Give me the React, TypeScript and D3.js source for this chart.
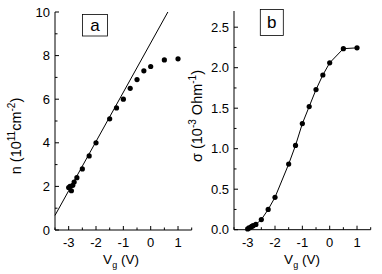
import React from "react";
import * as d3 from "d3";

// ---- data ----
const gateVoltageA = [-3.0, -2.95, -2.9, -2.85, -2.8, -2.7, -2.5, -2.25, -2.0, -1.5, -1.25, -1.0, -0.75, -0.5, -0.25, 0, 0.5, 1.0];
const densityA = [1.95, 2.0, 1.8, 2.05, 2.2, 2.4, 2.8, 3.4, 4.0, 5.1, 5.6, 6.0, 6.5, 6.9, 7.3, 7.5, 7.8, 7.85];
const gateVoltageB = [-3.0, -2.95, -2.9, -2.85, -2.8, -2.7, -2.5, -2.25, -2.0, -1.5, -1.25, -1.0, -0.75, -0.5, -0.25, 0, 0.5, 1.0];
const conductivityB = [0.01, 0.02, 0.03, 0.04, 0.05, 0.065, 0.125, 0.25, 0.4, 0.81, 1.04, 1.31, 1.52, 1.73, 1.91, 2.06, 2.235, 2.245];
const fitSlope = 2.26;
const fitIntercept = 8.58;
const xTicks = [-3, -2, -1, 0, 1];
const yTicksA = [0, 2, 4, 6, 8, 10];
const yTicksB = [0, 0.5, 1.0, 1.5, 2.0, 2.5];

const FONT = "'Liberation Sans', Arial, Helvetica, sans-serif";

export default function App() {
  // panel a
  const xA = d3.scaleLinear().domain([-3.5, 1.5]).range([55, 191.7]);
  const yA = d3.scaleLinear().domain([0, 10]).range([230, 12]);
  // panel b
  const xB = d3.scaleLinear().domain([-3.5, 1.5]).range([234, 370.7]);
  const yB = d3.scaleLinear().domain([0, 2.7]).range([229.7, 11]);

  const fitEnd = (10 - fitIntercept) / fitSlope;
  const fitLine = d3.line<number>().x((v) => xA(v)).y((v) => yA(fitSlope * v + fitIntercept));
  const lineB = d3.line<number>().x((_, i) => xB(gateVoltageB[i])).y((d) => yB(d));

  const xMinor = d3.range(-3.5, 1.51, 0.5);
  const yMinorA = d3.range(0, 10.01, 1);
  const yMinorB = d3.range(0, 2.51, 0.25);

  const axes = (
    xs: d3.ScaleLinear<number, number>,
    ys: d3.ScaleLinear<number, number>,
    yTicks: number[],
    yMinor: number[],
    fmt: (v: number) => string
  ) => {
    const [x0, x1] = xs.range();
    const [y0, y1] = ys.range();
    return (
      <g stroke="#000" strokeWidth={1} fill="none">
        <line x1={x0} y1={y0} x2={x1} y2={y0} />
        <line x1={x0} y1={y0} x2={x0} y2={y1} />
        {xMinor.map((v) => (
          <line key={"xm" + v} x1={xs(v)} x2={xs(v)} y1={y0} y2={y0 - (Number.isInteger(v) ? 4 : 2.5)} />
        ))}
        {yMinor.map((v) => (
          <line key={"ym" + v} x1={x0} x2={x0 + (yTicks.some((t) => Math.abs(t - v) < 1e-6) ? 4 : 2.5)} y1={ys(v)} y2={ys(v)} />
        ))}
        <g stroke="none" fill="#000" fontFamily={FONT} fontSize={13}>
          {xTicks.map((v) => (
            <text key={"xt" + v} x={xs(v)} y={y0 + 17} textAnchor="middle">
              {String(v)}
            </text>
          ))}
          {yTicks.map((v) => (
            <text key={"yt" + v} x={x0 - 5} y={ys(v) + 4.5} textAnchor="end">
              {fmt(v)}
            </text>
          ))}
        </g>
      </g>
    );
  };

  return (
    <svg width={382} height={274} style={{ position: "absolute", left: 0, top: 0, background: "#fff" }}>
      <rect width={382} height={274} fill="#fff" />
      {/* Panel a */}
      {axes(xA, yA, yTicksA, yMinorA, (v) => String(v))}
      <path d={fitLine([-3.5, fitEnd]) || ""} stroke="#000" strokeWidth={1} fill="none" />
      {gateVoltageA.map((v, i) => (
        <circle key={"pa" + i} cx={xA(v)} cy={yA(densityA[i])} r={2.6} fill="#000" />
      ))}
      <rect x={82.5} y={14.5} width={25} height={21.5} fill="#fff" stroke="#000" strokeWidth={0.8} />
      <text x={95} y={31} textAnchor="middle" fontFamily={FONT} fontSize={17}>a</text>
      <text transform="translate(21,136) rotate(-90)" textAnchor="middle" fontFamily={FONT} fontSize={14.5}>
        n (10<tspan dy={-6} fontSize={10}>11</tspan>
        <tspan dy={6}>cm</tspan>
        <tspan dy={-6} fontSize={10}>-2</tspan>
        <tspan dy={6}>)</tspan>
      </text>
      <text x={121} y={263.5} textAnchor="middle" fontFamily={FONT} fontSize={13.5}>
        V<tspan dy={4} fontSize={9}>g</tspan>
        <tspan dy={-4}> (V)</tspan>
      </text>

      {/* Panel b */}
      {axes(xB, yB, yTicksB, yMinorB, (v) => v.toFixed(1))}
      <path d={lineB(conductivityB) || ""} stroke="#000" strokeWidth={1} fill="none" />
      {gateVoltageB.map((v, i) => (
        <circle key={"pb" + i} cx={xB(v)} cy={yB(conductivityB[i])} r={2.6} fill="#000" />
      ))}
      <rect x={260.3} y={9.5} width={23} height={26} fill="#fff" stroke="#000" strokeWidth={0.8} />
      <text x={271.8} y={28} textAnchor="middle" fontFamily={FONT} fontSize={17}>b</text>
      <text transform="translate(202,116) rotate(-90)" textAnchor="middle" fontFamily={FONT} fontSize={14.5}>
        σ (10<tspan dy={-6} fontSize={10}>-3</tspan>
        <tspan dy={6}> Ohm</tspan>
        <tspan dy={-6} fontSize={10}>-1</tspan>
        <tspan dy={6}>)</tspan>
      </text>
      <text x={302} y={263.5} textAnchor="middle" fontFamily={FONT} fontSize={13.5}>
        V<tspan dy={4} fontSize={9}>g</tspan>
        <tspan dy={-4}> (V)</tspan>
      </text>
    </svg>
  );
}
